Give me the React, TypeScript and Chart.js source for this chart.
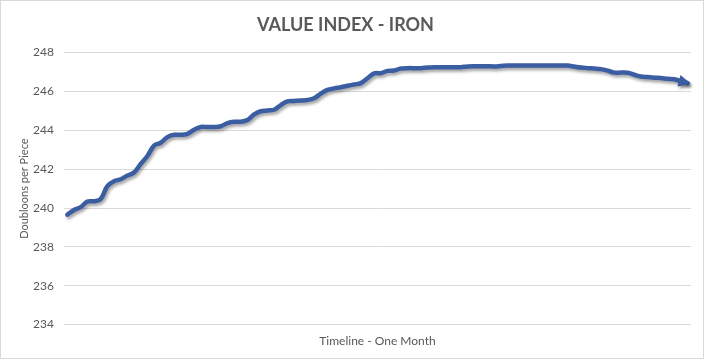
import React, { useEffect, useRef } from "react";
import { Chart, registerables } from "chart.js";

Chart.register(...registerables);

const TITLE = "VALUE INDEX - IRON";
const X_TITLE = "Timeline - One Month";
const Y_TITLE = "Doubloons per Piece";
const Y_MIN = 234;
const Y_MAX = 248;
const Y_STEP = 2;

const values: number[] = [
  239.66, 239.9, 240.05, 240.33, 240.35, 240.46, 241.13, 241.38, 241.48, 241.67,
  241.83, 242.27, 242.68, 243.21, 243.36, 243.65, 243.77, 243.77, 243.82, 244.03,
  244.17, 244.17, 244.17, 244.21, 244.37, 244.44, 244.44, 244.53, 244.82, 244.98,
  245.02, 245.06, 245.3, 245.49, 245.51, 245.53, 245.56, 245.65, 245.89, 246.08,
  246.16, 246.22, 246.29, 246.36, 246.43, 246.68, 246.93, 246.94, 247.06, 247.08,
  247.18, 247.2, 247.2, 247.2, 247.23, 247.25, 247.25, 247.25, 247.25, 247.25,
  247.29, 247.3, 247.3, 247.3, 247.29, 247.31, 247.33, 247.33, 247.33, 247.33,
  247.33, 247.33, 247.33, 247.33, 247.33, 247.33, 247.28, 247.23, 247.2, 247.18,
  247.15, 247.07, 246.97, 246.97, 246.96, 246.86, 246.77, 246.74, 246.71, 246.69,
  246.65, 246.63, 246.52, 246.43,
];

const categories: string[] = values.map((_, i) => String(i + 1));

const LINE_COLOR = "#3B5EA3";
const TEXT_COLOR = "#595959";
const GRID_COLOR = "#D9D9D9";
const FONT = "Lato, 'Open Sans', sans-serif";

const shadowPlugin = {
  id: "lineShadow",
  beforeDatasetDraw(chart: any) {
    const ctx = chart.ctx;
    ctx.save();
    ctx.shadowColor = "rgba(0,0,0,0.35)";
    ctx.shadowBlur = 3;
    ctx.shadowOffsetX = 1.5;
    ctx.shadowOffsetY = 2.5;
  },
  afterDatasetDraw(chart: any) {
    const ctx = chart.ctx;
    const meta = chart.getDatasetMeta(0);
    const pts = meta.data;
    if (pts.length >= 2) {
      const a = pts[pts.length - 2];
      const b = pts[pts.length - 1];
      const ang = Math.atan2(b.y - a.y, b.x - a.x);
      const len = 12;
      const half = 6;
      const tipX = b.x + Math.cos(ang) * 3;
      const tipY = b.y + Math.sin(ang) * 3;
      const baseX = tipX - Math.cos(ang) * len;
      const baseY = tipY - Math.sin(ang) * len;
      ctx.beginPath();
      ctx.moveTo(tipX, tipY);
      ctx.lineTo(baseX + Math.cos(ang + Math.PI / 2) * half, baseY + Math.sin(ang + Math.PI / 2) * half);
      ctx.lineTo(baseX + Math.cos(ang - Math.PI / 2) * half, baseY + Math.sin(ang - Math.PI / 2) * half);
      ctx.closePath();
      ctx.fillStyle = LINE_COLOR;
      ctx.fill();
    }
    ctx.restore();
  },
};

const borderPlugin = {
  id: "outerBorder",
  afterDraw(chart: any) {
    const ctx = chart.ctx;
    ctx.save();
    ctx.strokeStyle = GRID_COLOR;
    ctx.lineWidth = 1;
    ctx.strokeRect(0.5, 0.5, chart.width - 2, chart.height - 2);
    ctx.restore();
  },
};

export default function App() {
  const ref = useRef<HTMLCanvasElement | null>(null);

  useEffect(() => {
    document.body.style.margin = "0";
    const canvas = ref.current;
    if (!canvas) return;
    const chart = new Chart(canvas, {
      type: "line",
      data: {
        labels: categories,
        datasets: [
          {
            data: values,
            borderColor: LINE_COLOR,
            borderWidth: 4.5,
            pointRadius: 0,
            tension: 0.35,
            borderCapStyle: "round",
            borderJoinStyle: "round",
            fill: false,
          },
        ],
      },
      options: {
        animation: false,
        responsive: false,
        devicePixelRatio: 1,
        layout: { padding: { left: 0, right: 14, top: 0, bottom: 8 } },
        plugins: {
          legend: { display: false },
          tooltip: { enabled: false },
          title: {
            display: true,
            text: TITLE,
            color: TEXT_COLOR,
            font: { family: FONT, size: 18, weight: "bold" },
            padding: { top: 14, bottom: 17 },
          },
        },
        scales: {
          x: {
            type: "category",
            offset: true,
            grid: { display: false },
            border: { display: false },
            ticks: { display: false },
            title: {
              display: true,
              text: X_TITLE,
              color: TEXT_COLOR,
              font: { family: FONT, size: 12 },
              padding: { top: 1, bottom: 4 },
            },
          },
          y: {
            min: Y_MIN,
            max: Y_MAX,
            grid: { color: GRID_COLOR, lineWidth: 1, drawTicks: false },
            border: { display: false },
            ticks: {
              stepSize: Y_STEP,
              color: TEXT_COLOR,
              font: { family: FONT, size: 12 },
              padding: 10,
            },
            title: {
              display: true,
              text: Y_TITLE,
              color: TEXT_COLOR,
              font: { family: FONT, size: 11 },
              padding: { top: 18, bottom: 0 },
            },
            afterFit: (s: any) => {
              s.width = 64;
            },
          },
        },
      },
      plugins: [shadowPlugin, borderPlugin],
    });
    return () => chart.destroy();
  }, []);

  return (
    <div style={{ width: 705, height: 360 }}>
      <canvas ref={ref} width={705} height={360} />
    </div>
  );
}
